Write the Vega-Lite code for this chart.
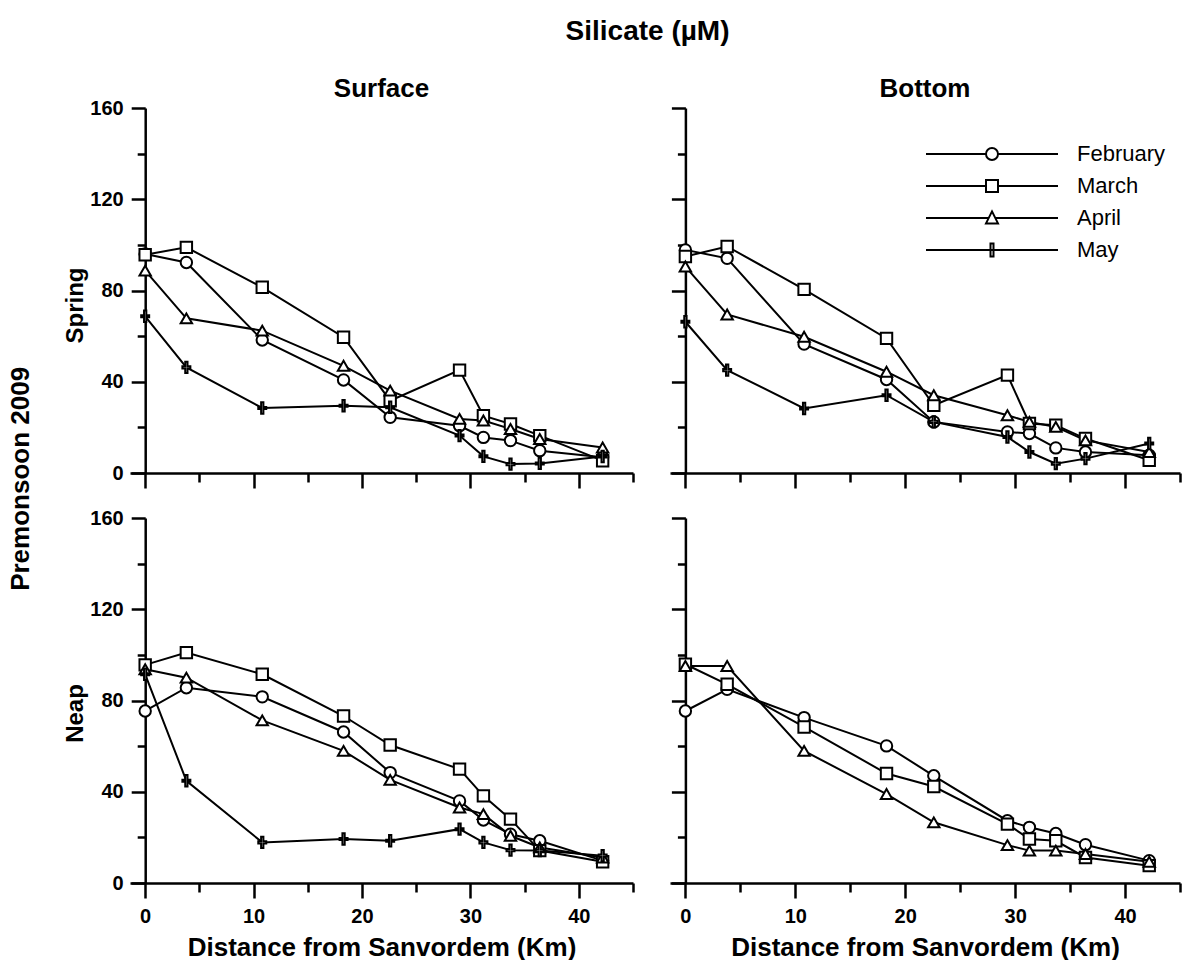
{
  "$schema": "https://vega.github.io/schema/vega-lite/v6.json",
  "padding": {"left": 7, "top": 17, "right": 0, "bottom": 0},
  "background": "white",
  "title": {"text": "Silicate (µM)", "fontSize": 28, "offset": 30, "anchor": "middle", "dx": 36},
  "data": {"values": [
    {"panel":"SS","month":"February","distance":0,"silicate":96},
    {"panel":"SS","month":"February","distance":3.8,"silicate":92.3},
    {"panel":"SS","month":"February","distance":10.8,"silicate":58.3},
    {"panel":"SS","month":"February","distance":18.3,"silicate":40.8},
    {"panel":"SS","month":"February","distance":22.6,"silicate":24.4},
    {"panel":"SS","month":"February","distance":29.0,"silicate":20.7},
    {"panel":"SS","month":"February","distance":31.2,"silicate":15.6},
    {"panel":"SS","month":"February","distance":33.7,"silicate":14.2},
    {"panel":"SS","month":"February","distance":36.4,"silicate":9.8},
    {"panel":"SS","month":"February","distance":42.2,"silicate":6.9},
    {"panel":"SS","month":"March","distance":0,"silicate":95.7},
    {"panel":"SS","month":"March","distance":3.8,"silicate":98.9},
    {"panel":"SS","month":"March","distance":10.8,"silicate":81.4},
    {"panel":"SS","month":"March","distance":18.3,"silicate":59.5},
    {"panel":"SS","month":"March","distance":22.6,"silicate":31.7},
    {"panel":"SS","month":"March","distance":29.0,"silicate":45.1},
    {"panel":"SS","month":"March","distance":31.2,"silicate":25.1},
    {"panel":"SS","month":"March","distance":33.7,"silicate":21.5},
    {"panel":"SS","month":"March","distance":36.4,"silicate":16.4},
    {"panel":"SS","month":"March","distance":42.2,"silicate":5.4},
    {"panel":"SS","month":"April","distance":0,"silicate":88.7},
    {"panel":"SS","month":"April","distance":3.8,"silicate":67.8},
    {"panel":"SS","month":"April","distance":10.8,"silicate":62.4},
    {"panel":"SS","month":"April","distance":18.3,"silicate":47.0},
    {"panel":"SS","month":"April","distance":22.6,"silicate":36.1},
    {"panel":"SS","month":"April","distance":29.0,"silicate":23.7},
    {"panel":"SS","month":"April","distance":31.2,"silicate":23.0},
    {"panel":"SS","month":"April","distance":33.7,"silicate":19.3},
    {"panel":"SS","month":"April","distance":36.4,"silicate":14.9},
    {"panel":"SS","month":"April","distance":42.2,"silicate":11.2},
    {"panel":"SS","month":"May","distance":0,"silicate":68.7},
    {"panel":"SS","month":"May","distance":3.8,"silicate":46.3},
    {"panel":"SS","month":"May","distance":10.8,"silicate":28.5},
    {"panel":"SS","month":"May","distance":18.3,"silicate":29.5},
    {"panel":"SS","month":"May","distance":22.6,"silicate":28.8},
    {"panel":"SS","month":"May","distance":29.0,"silicate":16.4},
    {"panel":"SS","month":"May","distance":31.2,"silicate":7.3},
    {"panel":"SS","month":"May","distance":33.7,"silicate":3.9},
    {"panel":"SS","month":"May","distance":36.4,"silicate":4.2},
    {"panel":"SS","month":"May","distance":42.2,"silicate":7.2},

    {"panel":"BS","month":"February","distance":0,"silicate":97.8},
    {"panel":"BS","month":"February","distance":3.8,"silicate":94.1},
    {"panel":"BS","month":"February","distance":10.8,"silicate":56.5},
    {"panel":"BS","month":"February","distance":18.3,"silicate":41.0},
    {"panel":"BS","month":"February","distance":22.6,"silicate":22.4},
    {"panel":"BS","month":"February","distance":29.3,"silicate":18.0},
    {"panel":"BS","month":"February","distance":31.3,"silicate":17.3},
    {"panel":"BS","month":"February","distance":33.7,"silicate":11.0},
    {"panel":"BS","month":"February","distance":36.4,"silicate":9.2},
    {"panel":"BS","month":"February","distance":42.2,"silicate":7.8},
    {"panel":"BS","month":"March","distance":0,"silicate":94.9},
    {"panel":"BS","month":"March","distance":3.8,"silicate":99.3},
    {"panel":"BS","month":"March","distance":10.8,"silicate":80.5},
    {"panel":"BS","month":"March","distance":18.3,"silicate":59.0},
    {"panel":"BS","month":"March","distance":22.6,"silicate":29.7},
    {"panel":"BS","month":"March","distance":29.3,"silicate":42.9},
    {"panel":"BS","month":"March","distance":31.3,"silicate":21.7},
    {"panel":"BS","month":"March","distance":33.7,"silicate":20.9},
    {"panel":"BS","month":"March","distance":36.4,"silicate":15.1},
    {"panel":"BS","month":"March","distance":42.2,"silicate":5.6},
    {"panel":"BS","month":"April","distance":0,"silicate":90.5},
    {"panel":"BS","month":"April","distance":3.8,"silicate":69.5},
    {"panel":"BS","month":"April","distance":10.8,"silicate":59.7},
    {"panel":"BS","month":"April","distance":18.3,"silicate":44.4},
    {"panel":"BS","month":"April","distance":22.6,"silicate":34.1},
    {"panel":"BS","month":"April","distance":29.3,"silicate":25.3},
    {"panel":"BS","month":"April","distance":31.3,"silicate":22.4},
    {"panel":"BS","month":"April","distance":33.7,"silicate":20.2},
    {"panel":"BS","month":"April","distance":36.4,"silicate":14.3},
    {"panel":"BS","month":"April","distance":42.2,"silicate":9.2},
    {"panel":"BS","month":"May","distance":0,"silicate":66.3},
    {"panel":"BS","month":"May","distance":3.8,"silicate":45.1},
    {"panel":"BS","month":"May","distance":10.8,"silicate":28.3},
    {"panel":"BS","month":"May","distance":18.3,"silicate":34.1},
    {"panel":"BS","month":"May","distance":22.6,"silicate":22.4},
    {"panel":"BS","month":"May","distance":29.3,"silicate":15.8},
    {"panel":"BS","month":"May","distance":31.3,"silicate":9.2},
    {"panel":"BS","month":"May","distance":33.7,"silicate":4.1},
    {"panel":"BS","month":"May","distance":36.4,"silicate":6.3},
    {"panel":"BS","month":"May","distance":42.2,"silicate":12.9},

    {"panel":"SN","month":"February","distance":0,"silicate":75.4},
    {"panel":"SN","month":"February","distance":3.8,"silicate":85.6},
    {"panel":"SN","month":"February","distance":10.8,"silicate":81.6},
    {"panel":"SN","month":"February","distance":18.3,"silicate":66.2},
    {"panel":"SN","month":"February","distance":22.6,"silicate":48.4},
    {"panel":"SN","month":"February","distance":29.0,"silicate":36.0},
    {"panel":"SN","month":"February","distance":31.2,"silicate":27.6},
    {"panel":"SN","month":"February","distance":33.7,"silicate":21.4},
    {"panel":"SN","month":"February","distance":36.4,"silicate":18.5},
    {"panel":"SN","month":"February","distance":42.2,"silicate":9.8},
    {"panel":"SN","month":"March","distance":0,"silicate":95.6},
    {"panel":"SN","month":"March","distance":3.8,"silicate":101},
    {"panel":"SN","month":"March","distance":10.8,"silicate":91.5},
    {"panel":"SN","month":"March","distance":18.3,"silicate":73.2},
    {"panel":"SN","month":"March","distance":22.6,"silicate":60.5},
    {"panel":"SN","month":"March","distance":29.0,"silicate":49.9},
    {"panel":"SN","month":"March","distance":31.2,"silicate":38.2},
    {"panel":"SN","month":"March","distance":33.7,"silicate":28.0},
    {"panel":"SN","month":"March","distance":36.4,"silicate":14.2},
    {"panel":"SN","month":"March","distance":42.2,"silicate":9.3},
    {"panel":"SN","month":"April","distance":0,"silicate":93.7},
    {"panel":"SN","month":"April","distance":3.8,"silicate":90.0},
    {"panel":"SN","month":"April","distance":10.8,"silicate":71.3},
    {"panel":"SN","month":"April","distance":18.3,"silicate":57.9},
    {"panel":"SN","month":"April","distance":22.6,"silicate":45.2},
    {"panel":"SN","month":"April","distance":29.0,"silicate":33.1},
    {"panel":"SN","month":"April","distance":31.2,"silicate":30.2},
    {"panel":"SN","month":"April","distance":33.7,"silicate":20.7},
    {"panel":"SN","month":"April","distance":36.4,"silicate":15.6},
    {"panel":"SN","month":"April","distance":42.2,"silicate":11.2},
    {"panel":"SN","month":"May","distance":0,"silicate":91.5},
    {"panel":"SN","month":"May","distance":3.8,"silicate":44.8},
    {"panel":"SN","month":"May","distance":10.8,"silicate":17.8},
    {"panel":"SN","month":"May","distance":18.3,"silicate":19.3},
    {"panel":"SN","month":"May","distance":22.6,"silicate":18.5},
    {"panel":"SN","month":"May","distance":29.0,"silicate":23.6},
    {"panel":"SN","month":"May","distance":31.2,"silicate":17.8},
    {"panel":"SN","month":"May","distance":33.7,"silicate":14.4},
    {"panel":"SN","month":"May","distance":36.4,"silicate":14.2},
    {"panel":"SN","month":"May","distance":42.2,"silicate":12.0},

    {"panel":"BN","month":"February","distance":0,"silicate":75.4},
    {"panel":"BN","month":"February","distance":3.8,"silicate":84.9},
    {"panel":"BN","month":"February","distance":10.8,"silicate":72.5},
    {"panel":"BN","month":"February","distance":18.3,"silicate":60.1},
    {"panel":"BN","month":"February","distance":22.6,"silicate":47.0},
    {"panel":"BN","month":"February","distance":29.3,"silicate":27.3},
    {"panel":"BN","month":"February","distance":31.3,"silicate":24.4},
    {"panel":"BN","month":"February","distance":33.7,"silicate":21.7},
    {"panel":"BN","month":"February","distance":36.4,"silicate":16.8},
    {"panel":"BN","month":"February","distance":42.2,"silicate":9.8},
    {"panel":"BN","month":"March","distance":0,"silicate":95.9},
    {"panel":"BN","month":"March","distance":3.8,"silicate":87.1},
    {"panel":"BN","month":"March","distance":10.8,"silicate":68.4},
    {"panel":"BN","month":"March","distance":18.3,"silicate":48.0},
    {"panel":"BN","month":"March","distance":22.6,"silicate":42.3},
    {"panel":"BN","month":"March","distance":29.3,"silicate":25.8},
    {"panel":"BN","month":"March","distance":31.3,"silicate":19.3},
    {"panel":"BN","month":"March","distance":33.7,"silicate":18.5},
    {"panel":"BN","month":"March","distance":36.4,"silicate":11.2},
    {"panel":"BN","month":"March","distance":42.2,"silicate":7.6},
    {"panel":"BN","month":"April","distance":0,"silicate":95.1},
    {"panel":"BN","month":"April","distance":3.8,"silicate":95.1},
    {"panel":"BN","month":"April","distance":10.8,"silicate":57.9},
    {"panel":"BN","month":"April","distance":18.3,"silicate":39.0},
    {"panel":"BN","month":"April","distance":22.6,"silicate":26.6},
    {"panel":"BN","month":"April","distance":29.3,"silicate":16.6},
    {"panel":"BN","month":"April","distance":31.3,"silicate":14.2},
    {"panel":"BN","month":"April","distance":33.7,"silicate":14.2},
    {"panel":"BN","month":"April","distance":36.4,"silicate":12.7},
    {"panel":"BN","month":"April","distance":42.2,"silicate":9.3}
  ]},
  "resolve": {"scale": {"shape": "independent"}, "legend": {"shape": "independent"}},
  "vconcat": [
    {
      "title": {"text": "Premonsoon 2009", "orient": "left", "fontSize": 26, "offset": 30, "anchor": "middle", "dx": 39},
      "columns": 2,
      "bounds": "flush",
      "spacing": {"row": 45, "column": 37},
      "resolve": {"scale": {"shape": "independent"}, "legend": {"shape": "independent"}},
      "concat": [
        {
          "width": 503, "height": 365,
          "title": {"text": "Surface", "offset": -4},
          "transform": [{"filter": "datum.panel === 'SS'"}],
          "encoding": {
            "x": {"field": "distance", "type": "quantitative", "scale": {"domain": [-1.4, 45], "nice": false, "zero": false},
                  "axis": {"values": [0,5,10,15,20,25,30,35,40,45], "labels": false, "title": null,
                           "tickSize": {"condition": {"test": "datum.value % 10 === 0", "value": 15}, "value": 9}}},
            "y": {"field": "silicate", "type": "quantitative", "scale": {"domain": [0, 160], "nice": false},
                  "axis": {"values": [0,20,40,60,80,100,120,140,160], "labelExpr": "datum.value % 40 === 0 ? datum.label : ''",
                           "title": "Spring", "titleFontSize": 24, "titlePadding": 2, "titleY": 197, "offset": -15.2, "labelPadding": 8,
                           "tickSize": {"condition": {"test": "datum.value % 40 === 0", "value": 14}, "value": 8}}}
          },
          "layer": [
            {"mark": {"type": "line", "color": "black", "strokeWidth": 2}, "encoding": {"detail": {"field": "month"}}},
            {"mark": {"type": "point", "filled": true, "fill": "white", "stroke": "black", "strokeWidth": 2, "size": 130, "opacity": 1},
             "encoding": {"shape": {"field": "month", "type": "nominal",
               "scale": {"domain": ["February","March","April","May"], "range": ["circle","square","triangle-up","M-0.2,-1H0.2V-0.18H0.7V0.18H0.2V1H-0.2V0.18H-0.7V-0.18H-0.2Z"]},
               "legend": null}}}
          ]
        },
        {
          "width": 510, "height": 365,
          "title": {"text": "Bottom", "offset": 5},
          "transform": [{"filter": "datum.panel === 'BS'"}],
          "encoding": {
            "x": {"field": "distance", "type": "quantitative", "scale": {"domain": [-1.4, 45], "nice": false, "zero": false},
                  "axis": {"values": [0,5,10,15,20,25,30,35,40,45], "labels": false, "title": null,
                           "tickSize": {"condition": {"test": "datum.value % 10 === 0", "value": 15}, "value": 9}}},
            "y": {"field": "silicate", "type": "quantitative", "scale": {"domain": [0, 160], "nice": false},
                  "axis": {"values": [0,20,40,60,80,100,120,140,160], "labels": false, "title": null, "offset": -15.4,
                           "tickSize": {"condition": {"test": "datum.value % 40 === 0", "value": 14}, "value": 8}}}
          },
          "resolve": {"scale": {"shape": "independent"}},
          "layer": [
            {"mark": {"type": "line", "color": "black", "strokeWidth": 2}, "encoding": {"detail": {"field": "month"}}},
            {"mark": {"type": "point", "filled": true, "fill": "white", "stroke": "black", "strokeWidth": 2, "size": 130, "opacity": 1},
             "encoding": {"shape": {"field": "month", "type": "nominal",
               "scale": {"domain": ["February","March","April","May"], "range": ["circle","square","triangle-up","M-0.2,-1H0.2V-0.18H0.7V0.18H0.2V1H-0.2V0.18H-0.7V-0.18H-0.2Z"]},
               "legend": null}}},
            {"mark": {"type": "point", "filled": true, "fill": "white", "stroke": "black", "strokeWidth": 2, "size": 144, "opacity": 0},
             "encoding": {"shape": {"field": "month", "type": "nominal",
               "scale": {"domain": ["February","March","April","May"], "range": [
                 "M-11,0H-1M1,0H11M-1,0A1,1 0 1,1 1,0A1,1 0 1,1 -1,0Z",
                 "M-11,0H-1M1,0H11M-1,-1H1V1H-1Z",
                 "M-11,0H-0.55M0.55,0H11M0,-1.1L1,0.9H-1Z",
                 "M-11,0H11M-0.25,-1.1H0.25V1.1H-0.25Z"]},
               "legend": {"orient": "none", "legendX": 311, "legendY": 35, "title": null, "symbolSize": 144, "symbolOpacity": 1,
                          "symbolStrokeWidth": 2,
                          "labelFontSize": 22, "labelFontWeight": "normal", "labelColor": "black", "labelOffset": 74,
                          "rowPadding": 10}}}}
          ]
        },
        {
          "width": 503, "height": 365,
          "transform": [{"filter": "datum.panel === 'SN'"}],
          "encoding": {
            "x": {"field": "distance", "type": "quantitative", "scale": {"domain": [-1.4, 45], "nice": false, "zero": false},
                  "axis": {"values": [0,5,10,15,20,25,30,35,40,45], "labelExpr": "datum.value % 10 === 0 ? datum.label : ''",
                           "labelFlush": false, "labelOverlap": false, "labelPadding": 8,
                           "title": "Distance from Sanvordem (Km)", "titlePadding": 8,
                           "tickSize": {"condition": {"test": "datum.value % 10 === 0", "value": 15}, "value": 9}}},
            "y": {"field": "silicate", "type": "quantitative", "scale": {"domain": [0, 160], "nice": false},
                  "axis": {"values": [0,20,40,60,80,100,120,140,160], "labelExpr": "datum.value % 40 === 0 ? datum.label : ''",
                           "title": "Neap", "titleFontSize": 24, "titlePadding": 2, "titleY": 195, "offset": -15.2, "labelPadding": 8,
                           "tickSize": {"condition": {"test": "datum.value % 40 === 0", "value": 14}, "value": 8}}}
          },
          "layer": [
            {"mark": {"type": "line", "color": "black", "strokeWidth": 2}, "encoding": {"detail": {"field": "month"}}},
            {"mark": {"type": "point", "filled": true, "fill": "white", "stroke": "black", "strokeWidth": 2, "size": 130, "opacity": 1},
             "encoding": {"shape": {"field": "month", "type": "nominal",
               "scale": {"domain": ["February","March","April","May"], "range": ["circle","square","triangle-up","M-0.2,-1H0.2V-0.18H0.7V0.18H0.2V1H-0.2V0.18H-0.7V-0.18H-0.2Z"]},
               "legend": null}}}
          ]
        },
        {
          "width": 510, "height": 365,
          "transform": [{"filter": "datum.panel === 'BN'"}],
          "encoding": {
            "x": {"field": "distance", "type": "quantitative", "scale": {"domain": [-1.4, 45], "nice": false, "zero": false},
                  "axis": {"values": [0,5,10,15,20,25,30,35,40,45], "labelExpr": "datum.value % 10 === 0 ? datum.label : ''",
                           "labelFlush": false, "labelOverlap": false, "labelPadding": 8,
                           "title": "Distance from Sanvordem (Km)", "titlePadding": 8,
                           "tickSize": {"condition": {"test": "datum.value % 10 === 0", "value": 15}, "value": 9}}},
            "y": {"field": "silicate", "type": "quantitative", "scale": {"domain": [0, 160], "nice": false},
                  "axis": {"values": [0,20,40,60,80,100,120,140,160], "labels": false, "title": null, "offset": -15.4,
                           "tickSize": {"condition": {"test": "datum.value % 40 === 0", "value": 14}, "value": 8}}}
          },
          "layer": [
            {"mark": {"type": "line", "color": "black", "strokeWidth": 2}, "encoding": {"detail": {"field": "month"}}},
            {"mark": {"type": "point", "filled": true, "fill": "white", "stroke": "black", "strokeWidth": 2, "size": 130, "opacity": 1},
             "encoding": {"shape": {"field": "month", "type": "nominal",
               "scale": {"domain": ["February","March","April","May"], "range": ["circle","square","triangle-up","M-0.2,-1H0.2V-0.18H0.7V0.18H0.2V1H-0.2V0.18H-0.7V-0.18H-0.2Z"]},
               "legend": null}}}
          ]
        }
      ]
    }
  ],
  "config": {
    "font": "Liberation Sans",
    "view": {"stroke": null},
    "axis": {"grid": false, "domainColor": "black", "domainWidth": 2.5, "tickColor": "black", "tickWidth": 2.5,
             "labelColor": "black", "labelFont": "Liberation Sans", "labelFontSize": 20, "labelFontWeight": "bold",
             "titleColor": "black", "titleFont": "Liberation Sans", "titleFontSize": 26, "titleFontWeight": "bold"},
    "title": {"font": "Liberation Sans", "fontSize": 26, "fontWeight": "bold", "color": "black"},
    "legend": {"labelFont": "Liberation Sans"}
  }
}
